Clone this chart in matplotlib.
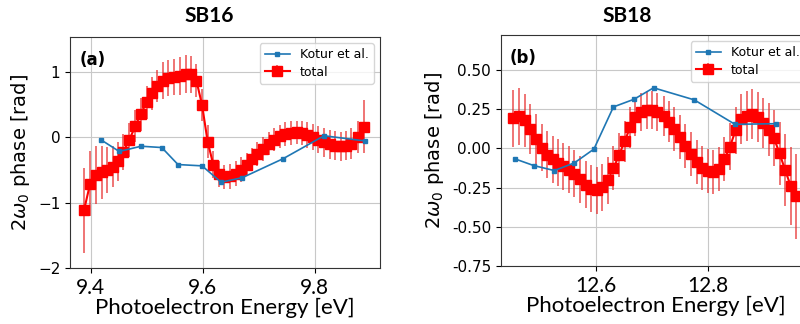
import numpy as np
from matplotlib import pyplot as plt
from matplotlib.ticker import FuncFormatter

# ---- SB16 (panel a) ----
sb16_energy = [9.388, 9.399, 9.409, 9.420, 9.430, 9.439, 9.449, 9.458, 9.469, 9.480,
               9.489, 9.500, 9.509, 9.519, 9.530, 9.539, 9.549, 9.559, 9.570, 9.579,
               9.589, 9.599, 9.609, 9.619, 9.629, 9.639, 9.649, 9.659, 9.668, 9.679,
               9.689, 9.698, 9.708, 9.718, 9.728, 9.738, 9.748, 9.758, 9.768, 9.778,
               9.787, 9.797, 9.807, 9.817, 9.827, 9.837, 9.847, 9.857, 9.866, 9.877,
               9.888]
sb16_total = [-1.12, -0.71, -0.58, -0.54, -0.50, -0.45, -0.37, -0.23, -0.04, 0.17,
              0.35, 0.53, 0.67, 0.78, 0.86, 0.90, 0.92, 0.94, 0.96, 0.96,
              0.86, 0.49, -0.07, -0.42, -0.57, -0.61, -0.60, -0.56, -0.50, -0.42,
              -0.34, -0.26, -0.18, -0.10, -0.04, 0.01, 0.05, 0.06, 0.07, 0.06,
              0.03, 0.00, -0.04, -0.08, -0.11, -0.13, -0.14, -0.13, -0.10, 0.00,
              0.16]
sb16_err = [0.65, 0.50, 0.45, 0.40, 0.35, 0.32, 0.30, 0.28, 0.26, 0.25,
            0.25, 0.25, 0.25, 0.25, 0.28, 0.28, 0.28, 0.29, 0.29, 0.28,
            0.25, 0.25, 0.25, 0.20, 0.20, 0.19, 0.19, 0.19, 0.19, 0.18,
            0.18, 0.18, 0.18, 0.18, 0.18, 0.18, 0.18, 0.18, 0.18, 0.18,
            0.20, 0.20, 0.21, 0.22, 0.22, 0.22, 0.22, 0.22, 0.24, 0.25,
            0.40]
sb16_kotur_energy = [9.418, 9.451, 9.490, 9.527, 9.556, 9.599, 9.633, 9.671, 9.744, 9.817, 9.891]
sb16_kotur = [-0.04, -0.22, -0.14, -0.16, -0.42, -0.44, -0.69, -0.62, -0.33, 0.02, -0.06]

# ---- SB18 (panel b) ----
sb18_energy = [12.451, 12.462, 12.472, 12.482, 12.492, 12.502, 12.512, 12.522, 12.531, 12.541,
               12.552, 12.561, 12.571, 12.582, 12.591, 12.601, 12.611, 12.621, 12.631, 12.641,
               12.651, 12.661, 12.670, 12.681, 12.691, 12.700, 12.710, 12.721, 12.731, 12.740,
               12.750, 12.760, 12.770, 12.780, 12.790, 12.800, 12.810, 12.820, 12.830, 12.840,
               12.850, 12.860, 12.870, 12.880, 12.890, 12.900, 12.910, 12.919, 12.929, 12.939,
               12.949, 12.959]
sb18_total = [0.192, 0.205, 0.180, 0.126, 0.062, 0.004, -0.040, -0.070, -0.092, -0.113,
              -0.135, -0.160, -0.195, -0.230, -0.258, -0.267, -0.248, -0.203, -0.126, -0.043,
              0.045, 0.135, 0.200, 0.233, 0.244, 0.244, 0.233, 0.207, 0.171, 0.126,
              0.072, 0.015, -0.038, -0.088, -0.124, -0.145, -0.149, -0.130, -0.070, 0.011,
              0.115, 0.186, 0.207, 0.218, 0.203, 0.165, 0.120, 0.066, -0.032, -0.138,
              -0.240, -0.305]
sb18_err = [0.18, 0.18, 0.17, 0.16, 0.16, 0.15, 0.15, 0.15, 0.15, 0.15,
            0.15, 0.15, 0.15, 0.15, 0.15, 0.15, 0.15, 0.15, 0.14, 0.14,
            0.13, 0.13, 0.12, 0.12, 0.12, 0.12, 0.12, 0.13, 0.13, 0.14,
            0.14, 0.14, 0.14, 0.14, 0.14, 0.14, 0.14, 0.14, 0.14, 0.15,
            0.15, 0.16, 0.16, 0.16, 0.16, 0.16, 0.17, 0.18, 0.20, 0.23,
            0.25, 0.27]
sb18_kotur_energy = [12.454, 12.488, 12.525, 12.561, 12.596, 12.631, 12.668, 12.703, 12.776, 12.849, 12.922]
sb18_kotur = [-0.066, -0.109, -0.141, -0.092, -0.004, 0.265, 0.314, 0.387, 0.310, 0.154, 0.158]

label_font = 'Lato'

fig = plt.figure(figsize=(8, 3.24), dpi=100)
ax1 = fig.add_axes([0.0875, 0.173, 0.3875, 0.713])
ax2 = fig.add_axes([0.626, 0.179, 0.3875, 0.713])


def draw_panel(ax, e_tot, tot, err, e_kot, kot, tag):
    ax.plot(e_kot, kot, '-s', color='#1f77b4', ms=3.5, lw=1.2, label='Kotur et al.', zorder=3)
    ax.errorbar(e_tot, tot, yerr=err, fmt='-s', color='red', ms=6.5, lw=1.5,
                elinewidth=1.2, ecolor=(0.9, 0.15, 0.15, 0.75), label='total', zorder=2)
    ax.grid(True, color='#c8c8c8', lw=0.8)
    ax.set_axisbelow(True)
    ax.legend(loc='upper right', fontsize=9, handlelength=2.0, borderpad=0.4,
              labelspacing=0.35, framealpha=0.8)
    ax.text(0.03, 0.94, tag, transform=ax.transAxes, fontsize=12, fontweight='bold',
            va='top', ha='left')
    ax.set_xlabel('Photoelectron Energy [eV]', fontsize=16, family=label_font, labelpad=0)
    ax.set_ylabel(r'$2\omega_0$ phase [rad]', fontsize=14, labelpad=4)
    ax.tick_params(axis='y', labelsize=11)
    ax.tick_params(axis='x', labelsize=15)
    for s in ax.spines.values():
        s.set_color('#333333')


draw_panel(ax1, sb16_energy, sb16_total, sb16_err, sb16_kotur_energy, sb16_kotur, '(a)')
ax1.set_xlim(9.363, 9.917)
ax1.set_ylim(-2, 1.53)
ax1.set_xticks([9.4, 9.6, 9.8])
ax1.set_yticks([-2, -1, 0, 1])
for t in ax1.get_xticklabels():
    t.set_family(label_font)

draw_panel(ax2, sb18_energy, sb18_total, sb18_err, sb18_kotur_energy, sb18_kotur, '(b)')
ax2.set_xlim(12.429, 12.985)
ax2.set_ylim(-0.75, 0.724)
ax2.set_xticks([12.6, 12.8])
ax2.set_yticks([-0.75, -0.5, -0.25, 0, 0.25, 0.5])
ax2.yaxis.set_major_formatter(FuncFormatter(lambda v, p: '%.2f' % v))
for t in ax2.get_xticklabels():
    t.set_family(label_font)

fig.text(209 / 800, 1 - 16 / 324, 'SB16', ha='center', va='center', fontsize=15,
         fontweight='bold', family=label_font)
fig.text(627 / 800, 1 - 16 / 324, 'SB18', ha='center', va='center', fontsize=15,
         fontweight='bold', family=label_font)

fig.savefig('out.png', dpi=100)
